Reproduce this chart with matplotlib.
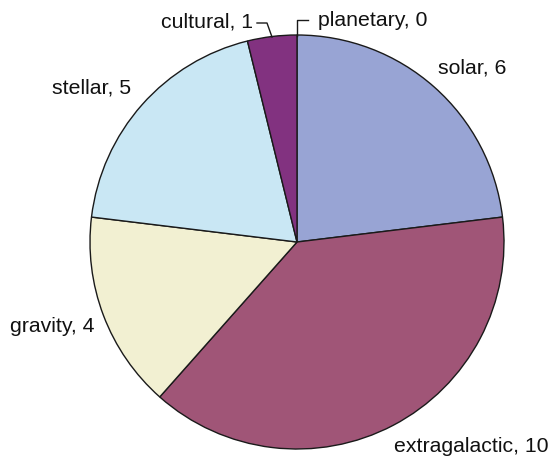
import matplotlib
matplotlib.use("Agg")
import matplotlib.pyplot as plt

categories = ["planetary", "solar", "extragalactic", "gravity", "stellar", "cultural"]
values = [0, 6, 10, 4, 5, 1]
colors = ["#98A4D4", "#98A4D4", "#A05577", "#F2F0D2", "#C9E7F4", "#823280"]

W, H = 556, 459
fig = plt.figure(figsize=(W / 100, H / 100), dpi=100)
ax = fig.add_axes([0, 0, 1, 1])

cx, cy, r = 297, H - 242, 207
ax.pie(values, colors=colors, startangle=90, counterclock=False,
       center=(cx, cy), radius=r, frame=True,
       wedgeprops=dict(edgecolor="#1a1a1a", linewidth=1.0))
ax.set_xlim(0, W)
ax.set_ylim(0, H)
ax.set_aspect("equal")
ax.axis("off")

# label anchor positions (pixel coords, y from top)
label_pos = {
    "planetary": (318, 20, "left"),
    "solar": (438, 68, "left"),
    "extragalactic": (394, 447, "left"),
    "gravity": (10, 327, "left"),
    "stellar": (52, 88, "left"),
    "cultural": (253, 22, "right"),
}
for cat, val in zip(categories, values):
    x, y, ha = label_pos[cat]
    ax.text(x, H - y, f"{cat}, {val}", ha=ha, va="center",
            fontsize=15.3, family=["Liberation Sans", "DejaVu Sans"], color="#111111")

# leader lines
ax.plot([257, 267, 272], [H - 23, H - 23, H - 37], color="#1a1a1a", lw=1.0)
ax.plot([297, 297, 308], [H - 36, H - 20, H - 20], color="#1a1a1a", lw=1.0)

fig.savefig("out.png", dpi=100)
